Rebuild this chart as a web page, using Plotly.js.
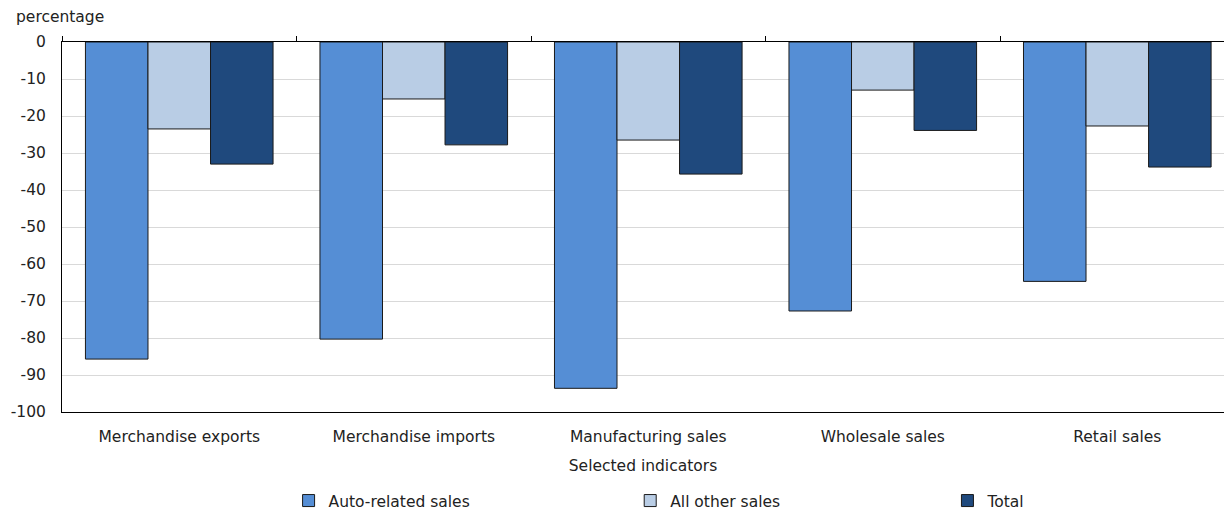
<!DOCTYPE html>
<html>
<head>
<meta charset="utf-8">
<script src="https://cdn.plot.ly/plotly-3.0.1.min.js"></script>
<style>html,body{margin:0;padding:0;background:#fff;}#chart{width:1224px;height:518px;}</style>
</head>
<body>
<div id="chart"></div>
<script>
const categories = ["Merchandise exports", "Merchandise imports", "Manufacturing sales", "Wholesale sales", "Retail sales"];
const autoRelated = [-85.7, -80.3, -93.6, -72.7, -64.7];
const allOther = [-23.5, -15.4, -26.5, -13.0, -22.7];
const total = [-33.0, -27.8, -35.7, -23.9, -33.8];
const yTicks = [0, -10, -20, -30, -40, -50, -60, -70, -80, -90, -100];

const FONT = "DejaVu Sans, Verdana, sans-serif";
const FS = 15.5;
const TXT = "#222";
const outline = {color: "#1a1a1a", width: 1};
const idx = categories.map((c, i) => i);

const traces = [
  {type: "bar", name: "Auto-related sales", x: idx, y: autoRelated, marker: {color: "#558ED5", line: outline}, legend: "legend"},
  {type: "bar", name: "All other sales", x: idx, y: allOther, marker: {color: "#B9CDE5", line: outline}, legend: "legend2"},
  {type: "bar", name: "Total", x: idx, y: total, marker: {color: "#1F497D", line: outline}, legend: "legend3"},
  {type: "scatter", x: [0], y: [0], xaxis: "x2", yaxis: "y", mode: "markers", marker: {opacity: 0}, showlegend: false, hoverinfo: "skip"}
];

const boundaries = [-0.5, 0.5, 1.5, 2.5, 3.5, 4.5];
const legendFont = {family: FONT, size: FS, color: TXT};
const legBase = {orientation: "h", y: -0.2405, yanchor: "middle", xanchor: "left", font: legendFont, itemwidth: 30, bgcolor: "rgba(0,0,0,0)", itemclick: false};

const layout = {
  width: 1224, height: 518,
  margin: {l: 62, r: 0, t: 42, b: 106},
  paper_bgcolor: "#fff", plot_bgcolor: "#fff",
  barmode: "group", bargap: 0.2, bargroupgap: 0,
  font: {family: FONT, size: FS, color: TXT},
  xaxis: {
    range: [-0.5, 4.455], tickvals: idx, ticktext: categories,
    showgrid: false, zeroline: false, showline: true, linecolor: "#000", linewidth: 1, ticks: "",
    ticklabelstandoff: 10,
    tickfont: {family: FONT, size: FS, color: TXT},
    title: {text: "Selected indicators", font: {family: FONT, size: FS, color: TXT}, standoff: 15},
    fixedrange: true, automargin: false
  },
  xaxis2: {
    overlaying: "x", side: "top", anchor: "y",
    range: [-0.5, 4.455], tickvals: boundaries, ticktext: boundaries.map(() => ""),
    ticks: "outside", ticklen: 5, tickcolor: "#000", tickwidth: 1,
    showline: true, linecolor: "#000", linewidth: 1, showgrid: false, zeroline: false, automargin: false
  },
  yaxis: {
    range: [-100, 0], tickvals: yTicks, ticktext: yTicks.map(String),
    showgrid: true, gridcolor: "#d9d9d9", gridwidth: 1,
    zeroline: false, showline: true, linecolor: "#000", linewidth: 1,
    ticks: "", ticklabelstandoff: 12, automargin: false,
    tickfont: {family: FONT, size: FS, color: TXT}
  },
  showlegend: true,
  legend: Object.assign({}, legBase, {x: 0.195}),
  legend2: Object.assign({}, legBase, {x: 0.489}),
  legend3: Object.assign({}, legBase, {x: 0.762}),
  annotations: [
    {text: "percentage", xref: "paper", yref: "paper", x: -0.0413, y: 1.0676, xanchor: "left", yanchor: "middle", showarrow: false, font: {family: FONT, size: FS, color: TXT}}
  ]
};

Plotly.newPlot("chart", traces, layout, {displayModeBar: false, staticPlot: true});
</script>
</body>
</html>
